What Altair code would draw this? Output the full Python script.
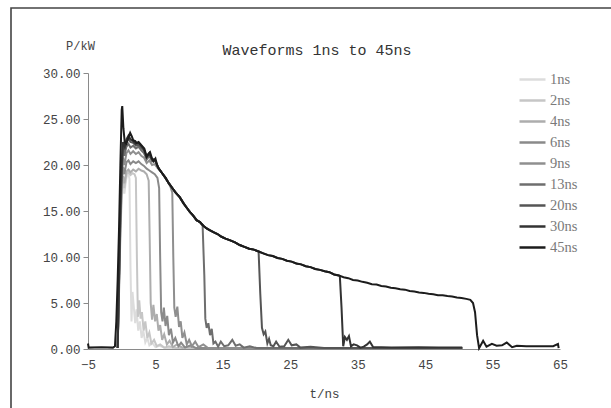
import altair as alt
import pandas as pd

chart_title = "Waveforms 1ns to 45ns"
series_names = ["1ns", "2ns", "4ns", "6ns", "9ns", "13ns", "20ns", "30ns", "45ns"]
series_colors = ["#dcdcdc", "#c6c6c6", "#adadad", "#8a8a8a", "#8f8f8f",
                 "#6e6e6e", "#555555", "#333333", "#1c1c1c"]

x_ticks = [-5, 5, 15, 25, 35, 45, 55, 65]
y_ticks = [0, 5, 10, 15, 20, 25, 30]

# shared decay envelope, read along the longest (45 ns) trace: (t/ns, P/kW)
env = [(5.5, 19.6), (6.0, 19.1), (6.5, 18.6), (7.0, 18.0), (7.5, 17.5), (8.0, 17.0),
       (8.6, 16.5), (9.2, 15.8), (9.7, 15.3), (10.1, 14.9), (10.6, 14.5), (11.1, 14.0),
       (11.6, 13.8), (12.1, 13.4), (12.6, 13.1), (13.1, 12.9), (13.6, 12.7), (14.2, 12.5),
       (14.8, 12.2), (15.4, 12.0), (16.1, 11.8), (16.8, 11.6), (17.5, 11.3), (18.2, 11.1),
       (18.9, 10.9), (19.6, 10.8), (20.3, 10.6), (21.0, 10.4), (21.7, 10.2), (22.4, 10.1),
       (23.1, 9.9), (23.8, 9.8), (24.5, 9.6), (25.2, 9.5), (25.9, 9.3), (26.6, 9.2),
       (27.3, 9.0), (28.0, 8.9), (28.7, 8.7), (29.4, 8.6), (30.1, 8.45), (30.8, 8.35),
       (31.5, 8.1), (32.2, 8.0), (32.9, 7.8), (33.6, 7.7), (34.3, 7.5), (35.0, 7.45),
       (35.7, 7.3), (36.4, 7.2), (37.1, 7.05), (37.8, 7.0), (38.5, 6.85), (39.2, 6.8),
       (39.9, 6.65), (40.6, 6.6), (41.3, 6.5), (42.0, 6.45), (42.7, 6.3), (43.4, 6.25),
       (44.1, 6.15), (44.8, 6.1), (45.5, 6.0), (46.2, 5.95), (46.9, 5.85), (47.6, 5.85),
       (48.3, 5.75), (49.0, 5.7), (49.7, 5.6), (50.4, 5.55), (51.1, 5.45), (51.7, 5.35),
       (52.1, 5.0)]

# rise / plateau of each trace
head_1 = [(-0.6, 0.1), (-0.4, 6), (-0.2, 12), (0.0, 16.5), (0.2, 17.6), (0.4, 16.9),
          (0.6, 18.2), (0.8, 18.9), (1.0, 19.0), (1.15, 18.5)]
head_2 = [(-0.6, 0.1), (-0.4, 6), (-0.2, 12.5), (0.0, 17), (0.2, 18.3), (0.4, 17.5),
          (0.7, 19.0), (1.0, 19.2), (1.3, 18.9), (1.6, 19.1), (1.9, 19.0), (2.1, 18.6)]
head_4 = [(-0.6, 0.1), (-0.4, 6.5), (-0.2, 13), (0.0, 17.5), (0.2, 18.8), (0.4, 18.0),
          (0.7, 19.3), (1.0, 19.5), (1.3, 19.2), (1.7, 19.5), (2.1, 19.3), (2.5, 19.6),
          (2.9, 19.4), (3.3, 19.3), (3.7, 19.0), (4.0, 18.3)]
head_6 = [(-0.6, 0.1), (-0.4, 7), (-0.2, 13.5), (0.0, 18), (0.2, 19.8), (0.4, 19.0),
          (0.7, 20.3), (1.0, 20.5), (1.3, 20.1), (1.7, 20.4), (2.1, 20.2), (2.5, 20.4),
          (2.9, 20.1), (3.3, 19.9), (3.7, 19.6), (4.1, 19.4), (4.5, 19.2), (4.9, 19.0),
          (5.3, 18.6), (5.55, 17.5)]
head_9 = [(-0.6, 0.1), (-0.4, 7), (-0.2, 14), (0.0, 18.5), (0.2, 20.8), (0.4, 20.0),
          (0.7, 21.3), (1.0, 21.6), (1.3, 21.2), (1.7, 21.5), (2.1, 21.2), (2.5, 21.4),
          (2.9, 21.0), (3.3, 20.8), (3.7, 20.2), (4.1, 20.5), (4.5, 20.0), (4.9, 20.1),
          (5.3, 19.7), (5.8, 19.3), (6.3, 18.8), (6.8, 18.2), (7.2, 17.7), (7.5, 17.0)]
head_13 = [(-0.6, 0.1), (-0.4, 7.5), (-0.2, 14.5), (0.0, 19.0), (0.2, 21.8), (0.4, 21.0),
           (0.7, 22.0), (1.0, 22.3), (1.3, 21.9), (1.7, 22.1), (2.1, 21.8), (2.5, 22.0),
           (2.9, 21.6), (3.3, 21.3), (3.7, 20.6), (4.1, 21.0), (4.5, 20.4), (4.9, 20.5),
           (5.3, 19.9)]
head_20 = [(-0.6, 0.1), (-0.4, 7.5), (-0.2, 15), (0.0, 19.5), (0.2, 22.3), (0.45, 21.8),
           (0.7, 22.5), (1.0, 22.9), (1.3, 22.5), (1.7, 22.4), (2.1, 22.1), (2.5, 22.2),
           (2.9, 21.9), (3.3, 21.6), (3.7, 20.8), (4.1, 21.2), (4.5, 20.6), (4.9, 20.6),
           (5.3, 19.9)]
head_30 = [(-0.6, 0.1), (-0.4, 8), (-0.2, 15.5), (0.0, 20.0), (0.2, 22.5), (0.45, 22.0),
           (0.7, 22.8), (1.0, 23.2), (1.3, 22.8), (1.7, 22.6), (2.1, 22.3), (2.5, 22.4),
           (2.9, 22.1), (3.3, 21.7), (3.7, 20.9), (4.1, 21.3), (4.5, 20.6), (4.9, 20.6),
           (5.3, 19.9)]
head_45 = [(-5.0, 0.6), (-4.9, 0.15), (-3.0, 0.2), (-1.3, 0.15), (-1.0, 0.3), (-0.8, 3.0),
           (-0.6, 7.5), (-0.4, 13), (-0.2, 20), (0.0, 26.0), (0.08, 26.4), (0.25, 24.0),
           (0.45, 22.5), (0.7, 22.3), (1.0, 23.0), (1.25, 23.5), (1.5, 23.1), (1.7, 22.7),
           (2.0, 22.6), (2.2, 22.4), (2.5, 22.5), (2.85, 22.2), (3.1, 22.0), (3.35, 21.8),
           (3.7, 20.9), (3.95, 21.2), (4.2, 21.4), (4.45, 20.8), (4.7, 20.4), (5.0, 20.7),
           (5.25, 20.0)]

# fall and ringing of each trace
tail_1 = [(1.3, 9), (1.45, 3.0), (1.6, 6.2), (1.8, 4.5), (2.0, 2.8), (2.2, 4.3), (2.45, 2.0),
          (2.7, 3.0), (2.95, 1.2), (3.2, 2.0), (3.5, 0.7), (3.8, 1.2), (4.1, 0.4), (4.5, 0.7),
          (5.0, 0.2), (5.6, 0.35), (6.5, 0.1), (50.5, 0.1)]
tail_2 = [(2.25, 10), (2.4, 3.5), (2.6, 5.3), (2.8, 3.3), (3.0, 4.0), (3.25, 2.0), (3.5, 3.0),
          (3.8, 1.2), (4.1, 1.8), (4.4, 0.6), (4.8, 1.0), (5.2, 0.3), (5.7, 0.5), (6.3, 0.15),
          (7.0, 0.3), (8.0, 0.1), (50.5, 0.1)]
tail_4 = [(4.15, 12), (4.3, 5), (4.5, 3.2), (4.7, 4.8), (4.95, 3.0), (5.2, 3.8), (5.45, 2.0),
          (5.7, 2.6), (6.0, 1.0), (6.3, 1.6), (6.7, 0.5), (7.1, 0.9), (7.6, 0.2), (8.2, 0.5),
          (9.0, 0.15), (10.0, 0.3), (11.0, 0.1), (50.5, 0.1)]
tail_6 = [(5.7, 10), (5.85, 4.0), (6.05, 3.0), (6.25, 4.5), (6.5, 2.5), (6.75, 3.6), (7.0, 1.5),
          (7.3, 2.2), (7.6, 0.7), (7.95, 1.2), (8.4, 0.3), (8.8, 0.7), (9.4, 0.15), (10.2, 0.4),
          (11.0, 0.1), (50.5, 0.1)]
tail_9 = [(7.65, 10), (7.8, 4.5), (8.0, 3.5), (8.25, 4.6), (8.5, 2.4), (8.75, 3.0), (9.0, 1.2),
          (9.3, 1.8), (9.65, 0.5), (10.0, 1.0), (10.4, 0.3), (10.9, 0.8), (11.4, 0.2),
          (12.1, 0.5), (12.8, 0.1), (50.5, 0.1)]
tail_13 = [(12.0, 13.4), (12.25, 8), (12.4, 3.3), (12.6, 2.3), (12.85, 2.8), (13.1, 1.5),
           (13.35, 2.2), (13.6, 0.6), (13.9, 0.8), (14.3, 0.25), (14.7, 0.8), (15.2, 0.3),
           (15.8, 0.4), (16.4, 1.0), (16.9, 0.35), (17.5, 0.5), (18.1, 0.15), (19.0, 0.3),
           (20.0, 0.1), (50.5, 0.1)]
tail_20 = [(20.3, 10.6), (20.55, 6), (20.8, 2.3), (21.05, 1.6), (21.3, 1.9), (21.6, 0.6),
           (21.85, 1.1), (22.1, 0.4), (22.5, 0.3), (22.9, 0.8), (23.4, 0.25), (24.1, 0.3),
           (24.7, 1.0), (25.2, 0.4), (25.9, 0.5), (26.5, 0.15), (28.0, 0.25), (30.0, 0.1),
           (50.5, 0.1)]
tail_30 = [(32.35, 7.9), (32.6, 4.5), (32.85, 0.3), (33.1, 1.3), (33.4, 1.0), (33.7, 1.4),
           (34.0, 0.3), (34.4, 0.5), (34.9, 0.4), (35.4, 0.15), (35.9, 0.25), (36.4, 0.5),
           (36.8, 0.8), (37.3, 0.2), (38.5, 0.2), (40.0, 0.15), (44.0, 0.2), (47.0, 0.15),
           (50.5, 0.15)]
tail_45 = [(52.4, 4.0), (52.7, 1.5), (53.0, 0.08), (53.6, 0.9), (54.1, 0.25), (54.9, 0.55),
           (55.6, 0.35), (56.4, 0.4), (57.1, 0.7), (57.9, 0.2), (58.6, 0.35), (60.0, 0.3),
           (62.0, 0.3), (64.0, 0.3), (64.7, 0.55), (64.8, 0.1)]

heads = [head_1, head_2, head_4, head_6, head_9, head_13, head_20, head_30, head_45]
tails = [tail_1, tail_2, tail_4, tail_6, tail_9, tail_13, tail_20, tail_30, tail_45]

rows = []
for idx, (name, head, tail) in enumerate(zip(series_names, heads, tails)):
    t_head_end = head[-1][0]
    t_tail_start = tail[0][0]
    middle = [pt for pt in env if t_head_end < pt[0] < t_tail_start]
    for k, (t, p) in enumerate(head + middle + tail):
        rows.append({"series": name, "order": idx, "k": k, "t": t, "P": p})
df = pd.DataFrame(rows)

MONO = "Liberation Mono"
SERIF = "Liberation Serif"

lines = alt.Chart(df).mark_line(strokeWidth=2, interpolate="linear").encode(
    x=alt.X("t:Q", scale=alt.Scale(domain=[-5, 65], nice=False, zero=False),
            axis=alt.Axis(values=x_ticks, title="t/ns", grid=False, ticks=False, tickSize=0,
                          labelFlush=False, labelPadding=9, titlePadding=17,
                          domainColor="#8a8a8a",
                          labelFont=MONO, labelFontSize=12.5, labelColor="#444444",
                          titleFont=MONO, titleFontSize=12.5, titleFontWeight="normal",
                          titleColor="#444444")),
    y=alt.Y("P:Q", scale=alt.Scale(domain=[0, 30], nice=False),
            axis=alt.Axis(values=y_ticks, format=".2f", title="P/kW", grid=False,
                          tickSize=5, tickColor="#8a8a8a", domainColor="#8a8a8a",
                          labelPadding=3, labelFont=MONO, labelFontSize=12.5,
                          labelColor="#444444", titleFont=MONO, titleFontSize=12,
                          titleFontWeight="normal", titleColor="#444444", titleAngle=0,
                          titleX=-8, titleY=-28, titleAlign="center",
                          titleBaseline="middle")),
    color=alt.Color("series:N", scale=alt.Scale(domain=series_names, range=series_colors),
                    legend=alt.Legend(title=None, orient="none", legendX=430, legendY=-8,
                                      symbolType="stroke", symbolSize=676,
                                      symbolStrokeWidth=2.5, labelFont=SERIF,
                                      labelFontSize=14.5, labelColor="#7a7a7a",
                                      labelOffset=3, rowPadding=-3.5)),
    detail="order:O",
    order=alt.Order("k:Q"),
)

frame = alt.Chart(pd.DataFrame({"f": [0]})).mark_rect(
    fill=None, stroke="#444444", strokeWidth=1.6
).encode(x=alt.value(-77), x2=alt.value(540), y=alt.value(-65), y2=alt.value(350))

title_text = alt.Chart(pd.DataFrame({"label": [chart_title]})).mark_text(
    font=MONO, fontSize=15, color="#333333", align="center", baseline="middle"
).encode(text="label:N", x=alt.value(229), y=alt.value(-23))

chart = alt.layer(frame, lines, title_text).properties(
    width=472, height=276,
    autosize=alt.AutoSizeParams(type="none"),
    padding={"left": 88, "top": 73, "right": 51, "bottom": 59},
).configure_view(stroke=None)

chart.save("out.html", embed_options={"renderer": "svg", "actions": False})
